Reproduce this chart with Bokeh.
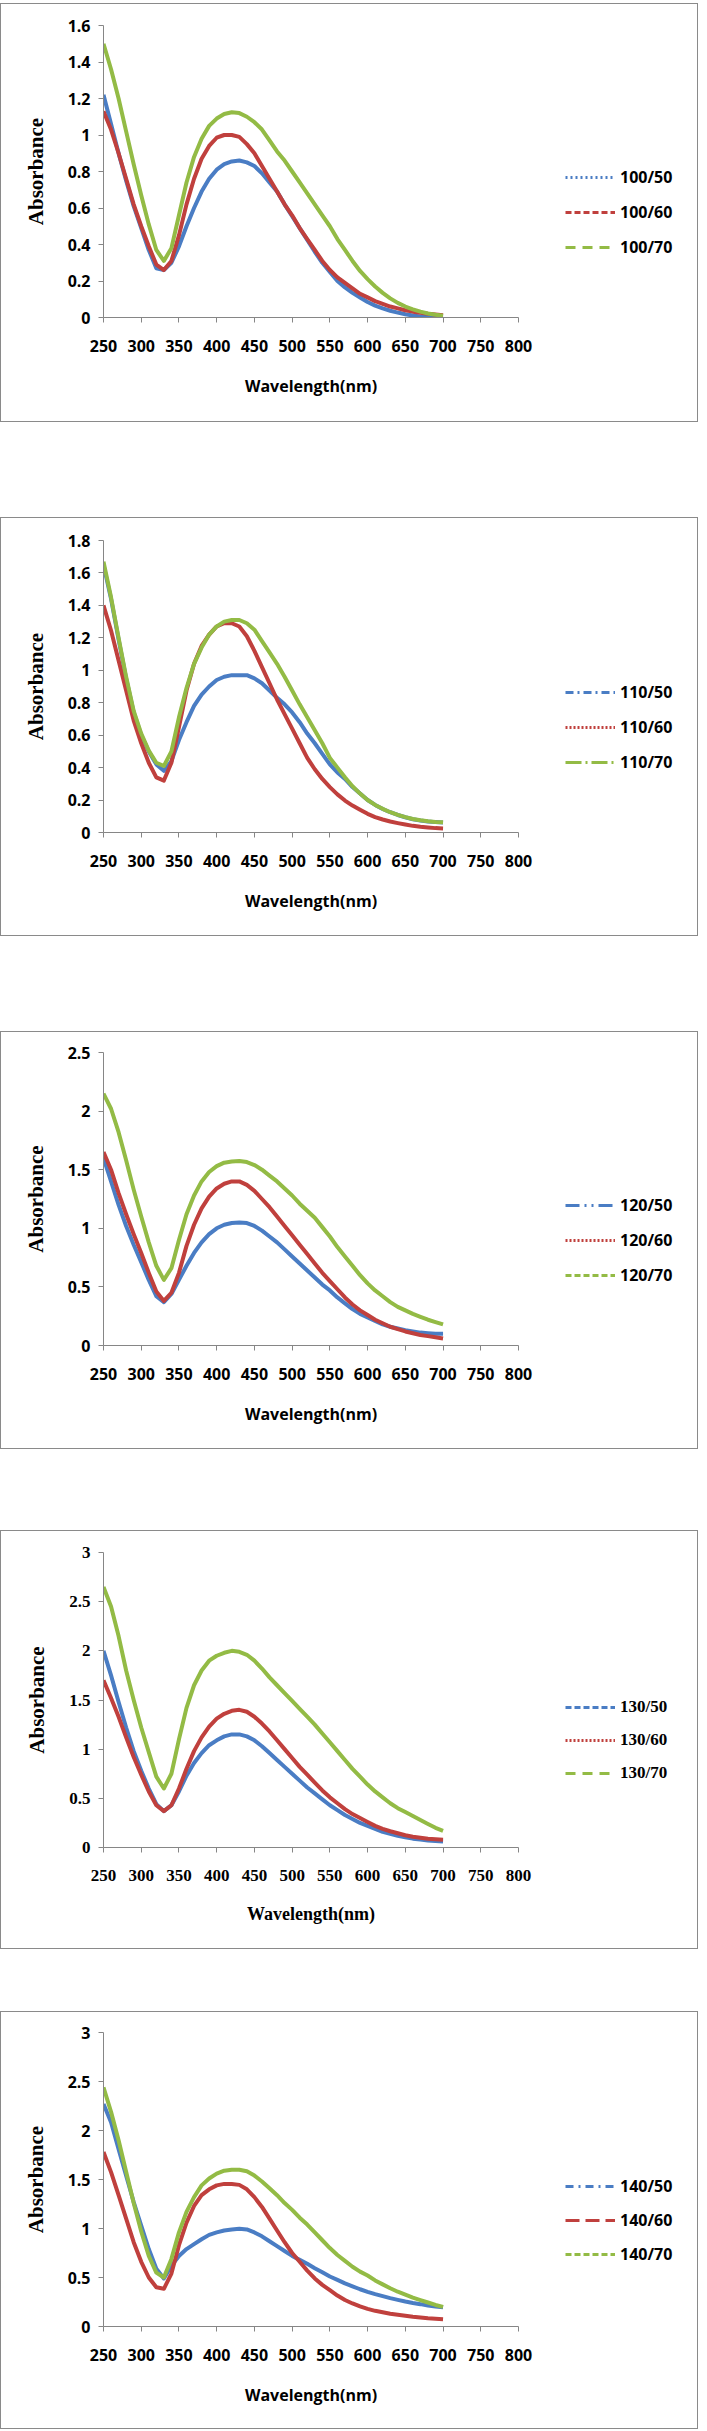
from bokeh.plotting import figure
from bokeh.models import (Range1d, FixedTicker, NumeralTickFormatter, Legend, LegendItem, Spacer)
from bokeh.layouts import column, row
from bokeh.embed import file_html
from bokeh.resources import INLINE

# ---------------- data ----------------
wavelength = list(range(250, 701, 10))
x_ticks = list(range(250, 801, 50))

# panel 1
labels_100 = ["100/50", "100/60", "100/70"]
a100_50 = [1.22, 1.06, 0.90, 0.75, 0.61, 0.49, 0.37, 0.27, 0.26, 0.30, 0.39, 0.50, 0.60, 0.69, 0.76, 0.81, 0.84, 0.855, 0.86,
           0.85, 0.83, 0.79, 0.74, 0.69, 0.62, 0.555, 0.49, 0.425, 0.36, 0.30, 0.25, 0.20, 0.165, 0.135, 0.11, 0.085, 0.065,
           0.05, 0.037, 0.027, 0.018, 0.011, 0.006, 0.003, 0.001, 0.0]
a100_60 = [1.13, 1.03, 0.90, 0.76, 0.62, 0.50, 0.39, 0.29, 0.26, 0.31, 0.45, 0.62, 0.76, 0.87, 0.94, 0.985, 1.0, 1.0, 0.99,
           0.95, 0.90, 0.83, 0.76, 0.69, 0.62, 0.56, 0.49, 0.43, 0.37, 0.31, 0.26, 0.22, 0.19, 0.16, 0.13, 0.11, 0.09,
           0.075, 0.06, 0.05, 0.04, 0.032, 0.026, 0.02, 0.016, 0.012]
a100_70 = [1.50, 1.36, 1.20, 1.02, 0.84, 0.67, 0.51, 0.37, 0.31, 0.38, 0.56, 0.74, 0.88, 0.98, 1.05, 1.09, 1.115, 1.125, 1.12,
           1.10, 1.07, 1.03, 0.97, 0.91, 0.86, 0.80, 0.74, 0.68, 0.62, 0.56, 0.50, 0.43, 0.37, 0.31, 0.255, 0.21, 0.17,
           0.135, 0.105, 0.08, 0.06, 0.045, 0.032, 0.022, 0.015, 0.01]
y_ticks_1 = [0, 0.2, 0.4, 0.6, 0.8, 1.0, 1.2, 1.4, 1.6]

# panel 2
labels_110 = ["110/50", "110/60", "110/70"]
a110_50 = [1.65, 1.44, 1.19, 0.95, 0.74, 0.60, 0.50, 0.42, 0.38, 0.44, 0.57, 0.68, 0.78, 0.85, 0.90, 0.94, 0.96, 0.97, 0.97,
           0.97, 0.95, 0.92, 0.875, 0.83, 0.79, 0.74, 0.68, 0.61, 0.55, 0.485, 0.42, 0.37, 0.33, 0.28, 0.24, 0.20, 0.17,
           0.145, 0.125, 0.108, 0.094, 0.082, 0.074, 0.068, 0.064, 0.062]
a110_60 = [1.40, 1.245, 1.06, 0.875, 0.69, 0.55, 0.43, 0.34, 0.32, 0.43, 0.65, 0.875, 1.04, 1.15, 1.22, 1.27, 1.29, 1.29, 1.27,
           1.21, 1.12, 1.02, 0.92, 0.82, 0.73, 0.64, 0.55, 0.46, 0.39, 0.33, 0.28, 0.235, 0.197, 0.166, 0.14, 0.115, 0.095,
           0.08, 0.068, 0.058, 0.049, 0.041, 0.035, 0.031, 0.027, 0.025]
a110_70 = [1.67, 1.45, 1.20, 0.96, 0.75, 0.61, 0.505, 0.43, 0.41, 0.50, 0.71, 0.89, 1.04, 1.14, 1.22, 1.27, 1.30, 1.31, 1.31,
           1.29, 1.25, 1.18, 1.11, 1.04, 0.96, 0.875, 0.79, 0.71, 0.63, 0.55, 0.46, 0.40, 0.34, 0.285, 0.24, 0.20, 0.17,
           0.146, 0.125, 0.109, 0.095, 0.083, 0.075, 0.069, 0.065, 0.063]
y_ticks_2 = [0, 0.2, 0.4, 0.6, 0.8, 1.0, 1.2, 1.4, 1.6, 1.8]

# panel 3
labels_120 = ["120/50", "120/60", "120/70"]
a120_50 = [1.60, 1.40, 1.20, 1.02, 0.86, 0.71, 0.56, 0.42, 0.37, 0.44, 0.56, 0.68, 0.79, 0.88, 0.95, 1.00, 1.03, 1.045, 1.05,
           1.045, 1.02, 0.98, 0.93, 0.88, 0.82, 0.76, 0.70, 0.64, 0.58, 0.52, 0.47, 0.41, 0.36, 0.31, 0.27, 0.24, 0.21,
           0.18, 0.16, 0.145, 0.13, 0.12, 0.11, 0.105, 0.10, 0.10]
a120_60 = [1.65, 1.50, 1.30, 1.12, 0.95, 0.79, 0.62, 0.46, 0.38, 0.45, 0.62, 0.85, 1.03, 1.17, 1.27, 1.34, 1.38, 1.40, 1.40,
           1.37, 1.32, 1.25, 1.18, 1.10, 1.02, 0.94, 0.86, 0.78, 0.70, 0.62, 0.55, 0.48, 0.41, 0.35, 0.30, 0.26, 0.22,
           0.19, 0.16, 0.14, 0.12, 0.105, 0.09, 0.08, 0.07, 0.06]
a120_70 = [2.15, 2.02, 1.82, 1.58, 1.33, 1.10, 0.88, 0.68, 0.56, 0.66, 0.90, 1.12, 1.28, 1.40, 1.48, 1.53, 1.56, 1.57, 1.575,
           1.565, 1.54, 1.50, 1.45, 1.40, 1.34, 1.28, 1.21, 1.15, 1.09, 1.01, 0.93, 0.84, 0.76, 0.68, 0.60, 0.53, 0.47,
           0.42, 0.37, 0.33, 0.30, 0.27, 0.245, 0.22, 0.20, 0.18]
y_ticks_3 = [0, 0.5, 1.0, 1.5, 2.0, 2.5]

# panel 4
labels_130 = ["130/50", "130/60", "130/70"]
a130_50 = [2.00, 1.75, 1.48, 1.22, 0.98, 0.78, 0.60, 0.44, 0.37, 0.43, 0.57, 0.73, 0.86, 0.96, 1.04, 1.09, 1.13, 1.15, 1.15,
           1.13, 1.09, 1.03, 0.96, 0.89, 0.82, 0.75, 0.68, 0.61, 0.55, 0.49, 0.43, 0.38, 0.33, 0.29, 0.25, 0.22, 0.19,
           0.16, 0.14, 0.12, 0.105, 0.09, 0.08, 0.07, 0.065, 0.06]
a130_60 = [1.70, 1.52, 1.33, 1.12, 0.92, 0.74, 0.57, 0.43, 0.37, 0.43, 0.60, 0.80, 0.98, 1.12, 1.23, 1.31, 1.36, 1.39, 1.40,
           1.38, 1.33, 1.26, 1.18, 1.09, 1.00, 0.91, 0.82, 0.74, 0.66, 0.58, 0.51, 0.45, 0.39, 0.34, 0.30, 0.26, 0.22,
           0.19, 0.165, 0.145, 0.125, 0.11, 0.10, 0.09, 0.085, 0.08]
a130_70 = [2.65, 2.45, 2.15, 1.80, 1.50, 1.22, 0.97, 0.72, 0.60, 0.75, 1.10, 1.42, 1.65, 1.80, 1.90, 1.95, 1.98, 2.00, 1.99,
           1.96, 1.90, 1.82, 1.73, 1.65, 1.57, 1.49, 1.41, 1.33, 1.25, 1.16, 1.07, 0.98, 0.89, 0.80, 0.72, 0.64, 0.57,
           0.51, 0.45, 0.40, 0.36, 0.32, 0.28, 0.24, 0.20, 0.17]
y_ticks_4 = [0, 0.5, 1.0, 1.5, 2.0, 2.5, 3.0]

# panel 5
labels_140 = ["140/50", "140/60", "140/70"]
a140_50 = [2.27, 2.085, 1.81, 1.54, 1.27, 1.03, 0.79, 0.59, 0.49, 0.62, 0.72, 0.79, 0.84, 0.89, 0.935, 0.96, 0.98, 0.99, 0.997,
           0.99, 0.96, 0.92, 0.87, 0.82, 0.77, 0.72, 0.68, 0.64, 0.595, 0.554, 0.51, 0.476, 0.44, 0.41, 0.38, 0.354, 0.33,
           0.31, 0.29, 0.272, 0.255, 0.24, 0.228, 0.214, 0.204, 0.197]
a140_60 = [1.78, 1.575, 1.34, 1.10, 0.86, 0.66, 0.50, 0.40, 0.385, 0.54, 0.83, 1.06, 1.23, 1.34, 1.40, 1.44, 1.455, 1.455, 1.445,
           1.40, 1.32, 1.22, 1.10, 0.98, 0.86, 0.75, 0.66, 0.57, 0.49, 0.425, 0.37, 0.316, 0.27, 0.235, 0.205, 0.18, 0.16,
           0.145, 0.13, 0.12, 0.11, 0.10, 0.092, 0.085, 0.08, 0.075]
a140_70 = [2.44, 2.19, 1.90, 1.58, 1.26, 0.97, 0.72, 0.55, 0.50, 0.69, 0.96, 1.17, 1.32, 1.44, 1.51, 1.56, 1.59, 1.60, 1.60,
           1.585, 1.54, 1.48, 1.41, 1.34, 1.26, 1.19, 1.11, 1.04, 0.96, 0.88, 0.80, 0.73, 0.67, 0.61, 0.56, 0.52, 0.47,
           0.43, 0.39, 0.355, 0.325, 0.295, 0.27, 0.245, 0.22, 0.20]
y_ticks_5 = [0, 0.5, 1.0, 1.5, 2.0, 2.5, 3.0]

# ---------------- styling ----------------
COLORS = ["#4a7dc4", "#c0403d", "#93bb45"]
SANS = "Open Sans"
SERIF = "Liberation Serif"
AXIS_GRAY = "#868686"
BOX_GRAY = "#8a8a8a"

TOTAL_W = 696      # inner width of each bordered panel
MAIN_W = 537       # chart part
LEG_W = TOTAL_W - MAIN_W
FRAME_W = 415
BORDER_LEFT = 102
LEG_X = 27         # legend start inside legend part

panels = [
    dict(series=[a100_50, a100_60, a100_70], labels=labels_100, yticks=y_ticks_1,
         dashes=["2 3", "6 3", "10 7"], font=SANS, h=417, top=21, fh=292, row1=152, pitch=35),
    dict(series=[a110_50, a110_60, a110_70], labels=labels_110, yticks=y_ticks_2,
         dashes=["8 4 2 4", "2 2", "16 4 2 4"], font=SANS, h=417, top=22, fh=292, row1=152, pitch=35),
    dict(series=[a120_50, a120_60, a120_70], labels=labels_120, yticks=y_ticks_3,
         dashes=["14 5 2 5 2 5", "2 2", "6 3"], font=SANS, h=416, top=20, fh=293, row1=153, pitch=35),
    dict(series=[a130_50, a130_60, a130_70], labels=labels_130, yticks=y_ticks_4,
         dashes=["6 3", "2 2", "10 7"], font=SERIF, h=417, top=21, fh=295, row1=155, pitch=33),
    dict(series=[a140_50, a140_60, a140_70], labels=labels_140, yticks=y_ticks_5,
         dashes=["8 5 2 5", "14 6", "6 3"], font=SANS, h=416, top=20, fh=294, row1=154, pitch=34),
]
lead = 3
gaps = [95, 95, 81, 62]


def make_panel(spec):
    fh = spec["fh"]
    top = spec["top"]
    h = spec["h"]
    bottom = h - top - fh
    font = spec["font"]
    p = figure(width=MAIN_W, height=h,
               min_border_left=BORDER_LEFT, min_border_right=MAIN_W - BORDER_LEFT - FRAME_W,
               min_border_top=top, min_border_bottom=bottom,
               x_range=Range1d(250, 800), y_range=Range1d(0, spec["yticks"][-1]),
               output_backend="svg", toolbar_location=None,
               background_fill_color="white", border_fill_color="white")
    p.outline_line_color = None
    p.xgrid.visible = False
    p.ygrid.visible = False

    for vals, col in zip(spec["series"], COLORS):
        p.line(wavelength, vals, line_color=col, line_width=4, line_join="round")

    for ax in (p.xaxis, p.yaxis):
        ax.axis_line_color = AXIS_GRAY
        ax.major_tick_line_color = AXIS_GRAY
        ax.major_tick_out = 5
        ax.major_tick_in = 0
        ax.minor_tick_line_color = None
        ax.major_label_text_font = font
        ax.major_label_text_font_style = "bold"
        ax.major_label_text_font_size = "16px" if font == SANS else "17px"
        ax.major_label_text_color = "black"

    p.xaxis.ticker = FixedTicker(ticks=x_ticks)
    p.yaxis.ticker = FixedTicker(ticks=spec["yticks"])
    p.yaxis.formatter = NumeralTickFormatter(format="0.[0]")
    p.xaxis.major_label_standoff = 17
    p.yaxis.major_label_standoff = 8

    p.xaxis.axis_label = "Wavelength(nm)"
    p.xaxis.axis_label_text_font = font
    p.xaxis.axis_label_text_font_size = "16px" if font == SANS else "18px"
    p.xaxis.axis_label_text_font_style = "bold"
    p.xaxis.axis_label_text_color = "black"
    p.xaxis.axis_label_standoff = 20

    p.yaxis.axis_label = "Absorbance"
    p.yaxis.axis_label_text_font = SERIF
    p.yaxis.axis_label_text_font_size = "21px"
    p.yaxis.axis_label_text_font_style = "bold"
    p.yaxis.axis_label_text_color = "black"
    p.yaxis.axis_label_standoff = 17

    # legend part: its own small figure, frame rows aligned with the chart's frame
    gh = 22
    spacing = spec["pitch"] - gh
    leg_h = 3 * gh + 2 * spacing
    leg_y = fh - (spec["row1"] - gh // 2) - leg_h   # from frame bottom, upwards
    q = figure(width=LEG_W, height=h,
               min_border_left=0, min_border_top=top, min_border_right=0, min_border_bottom=bottom,
               x_range=Range1d(0, 1), y_range=Range1d(0, 1),
               x_axis_type=None, y_axis_type=None, title=None,
               output_backend="svg", toolbar_location=None,
               background_fill_color="white", border_fill_color="white")
    q.outline_line_color = None
    q.xgrid.visible = False
    q.ygrid.visible = False
    items = []
    for vals, lab, col, dash in zip(spec["series"], spec["labels"], COLORS, spec["dashes"]):
        # same series, outside of this part's visible range: only its legend sample shows
        r = q.line(wavelength, vals, line_color=col, line_width=3, line_dash=dash)
        items.append(LegendItem(label=lab, renderers=[r]))

    legend = Legend(items=items, location=(LEG_X, leg_y), orientation="vertical",
                    glyph_width=50, glyph_height=gh, label_height=gh, label_standoff=5,
                    spacing=spacing, padding=0, margin=0,
                    border_line_alpha=0, background_fill_alpha=0,
                    label_text_font=font, label_text_font_size="16px" if font == SANS else "17px",
                    label_text_font_style="bold", label_text_color="black")
    q.add_layout(legend, "center")

    return row(p, q, styles={"border": "1px solid " + BOX_GRAY})


children = [Spacer(width=TOTAL_W, height=lead)]
for i, spec in enumerate(panels):
    children.append(make_panel(spec))
    if i < len(gaps):
        children.append(Spacer(width=TOTAL_W, height=gaps[i]))

layout = column(*children)
open("out.html", "w").write(file_html(layout, INLINE))
